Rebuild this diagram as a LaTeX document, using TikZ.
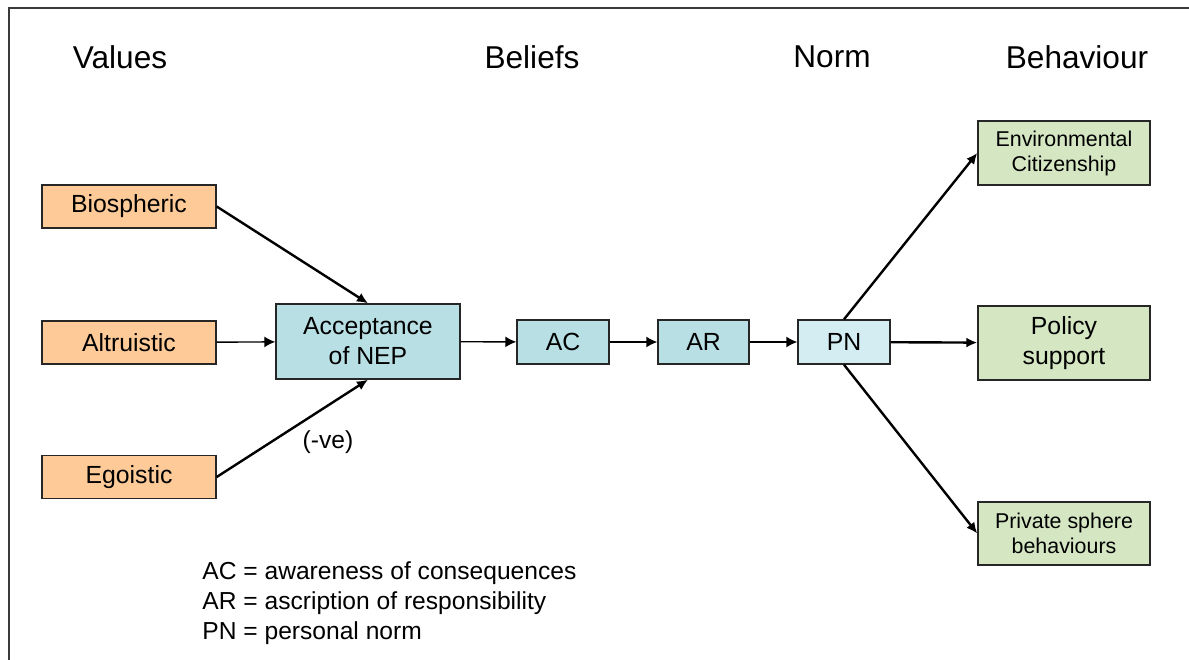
\documentclass[tikz,border=0pt]{standalone}
\usepackage{fontspec}
\setmainfont{Liberation Sans}
\usetikzlibrary{arrows.meta}

\definecolor{valfill}{HTML}{FDCA98}
\definecolor{belfill}{HTML}{B8DFE3}
\definecolor{normfill}{HTML}{D3EDF3}
\definecolor{behfill}{HTML}{D5E6C3}
\definecolor{framecol}{HTML}{3A3A3A}

\tikzset{
  box/.style={draw=black!85, line width=0.7pt, inner sep=0pt, align=center},
  valbox/.style={box, fill=valfill, minimum width=87pt, minimum height=21.5pt,
    font=\fontsize{12.4}{15}\selectfont},
  belbox/.style={box, fill=belfill, minimum height=22pt,
    font=\fontsize{12.4}{15}\selectfont},
  behbox/.style={box, fill=behfill, minimum width=86pt,
    font=\fontsize{10.7}{12.5}\selectfont},
  heading/.style={font=\fontsize{15.8}{18}\selectfont},
  arr/.style={line width=0.7pt, -{Latex[length=5.5pt,width=5.5pt]}},
  thickarr/.style={line width=1.2pt, -{Latex[length=5.5pt,width=5pt]}}
}

\begin{document}
\begin{tikzpicture}[x=0.5pt, y=-0.5pt]
            \useasboundingbox (0,0) rectangle (1189,659);
            \draw[framecol, line width=0.9pt] (9,680) -- (9,8) -- (1210,8);

            % Headings
            \node[heading] (hval) at (120,57) {Values};
            \node[heading] (hbel) at (532,57) {Beliefs};
            \node[heading] (hnorm) at (832,57) {Norm};
            \node[heading] (hbeh) at (1077,57) {Behaviour};

            % Nodes
            \node[valbox] (bio) at (129,206.5) {Biospheric};
            \node[valbox] (alt) at (129,342.5) {Altruistic};
            \node[valbox] (ego) at (129,477) {Egoistic};
            \node[belbox, minimum width=92pt, minimum height=37.5pt] (nep) at (368,341.5) {Acceptance\\of NEP};
            \node[belbox, minimum width=46pt] (ac) at (563,342) {AC};
            \node[belbox, minimum width=45.5pt] (ar) at (703.5,342) {AR};
            \node[belbox, fill=normfill, minimum width=46pt] (pn) at (844,342) {PN};
            \node[behbox, minimum height=32pt] (env) at (1064,153) {Environmental\\Citizenship};
            \node[behbox, minimum height=37pt, font=\fontsize{12.4}{15}\selectfont] (pol) at (1064,343) {Policy\\support};
            \node[behbox, minimum height=31.5pt] (priv) at (1064,533.5) {Private sphere\\behaviours};

            % Lines
            \draw[thickarr] (bio.east) -- (nep.north);
            \draw[arr] (alt) -- (nep);
            \draw[thickarr] (ego.east) -- (nep.south);
            \node[font=\fontsize{12.3}{15}\selectfont] (neg) at (328,442) {(-ve)};
            \draw[arr] (nep) -- (ac);
            \draw[arr] (ac) -- (ar);
            \draw[arr] (ar) -- (pn);
            \draw[thickarr] (pn.north) -- (env.west);
            \draw[thickarr] (pn) -- (pol);
            \draw[thickarr] (pn.south) -- (priv.west);

            % Legend
            \node[anchor=west, align=left, inner sep=0pt, font=\fontsize{12.3}{15}\selectfont] (key) at (202,603)
              {AC = awareness of consequences\\AR = ascription of responsibility\\PN = personal norm};
        \end{tikzpicture}
\end{document}
